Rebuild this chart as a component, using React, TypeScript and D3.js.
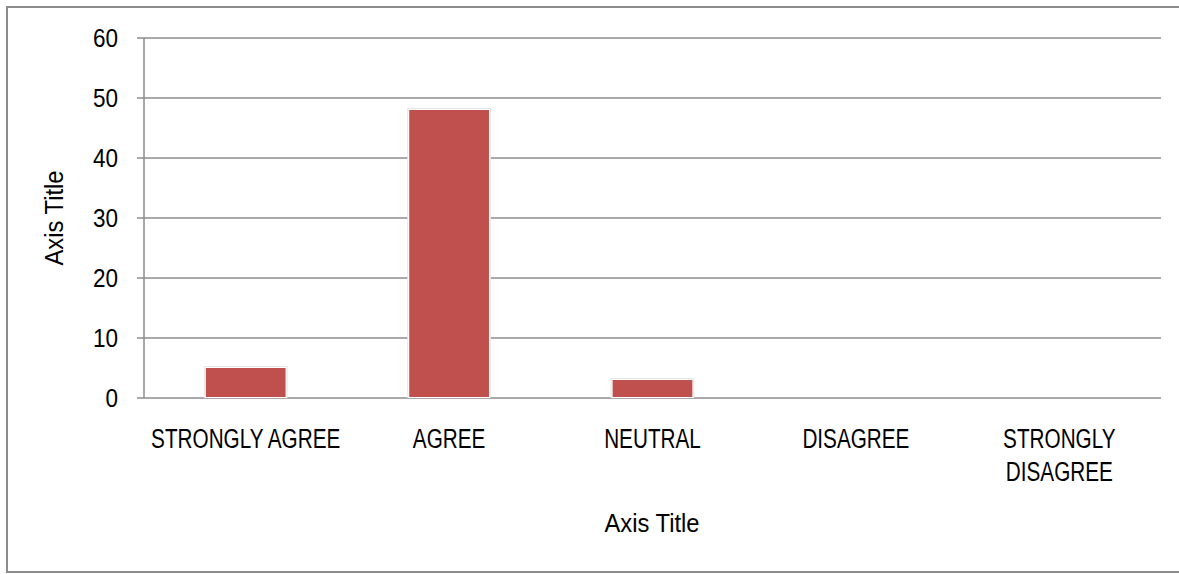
import React from "react";
import * as d3 from "d3";

const categories = ["STRONGLY AGREE", "AGREE", "NEUTRAL", "DISAGREE", "STRONGLY DISAGREE"];
const values = [5, 48, 3, 0, 0];
const yTicks = [0, 10, 20, 30, 40, 50, 60];
const xAxisTitle = "Axis Title";
const yAxisTitle = "Axis Title";

const W = 1179;
const H = 574;
const FONT = "'Liberation Sans', Arial, sans-serif";

function wrapLabel(s: string): string[] {
  if (s === "STRONGLY DISAGREE") return ["STRONGLY", "DISAGREE"];
  return [s];
}

function T(props: { x: number; y: number; size: number; sx: number; anchor: string; rotate?: number; children: React.ReactNode }) {
  const { x, y, size, sx, anchor, rotate, children } = props;
  return (
    <g transform={`translate(${x},${y}) rotate(${rotate || 0}) scale(${sx},1)`}>
      <text x={0} y={0} textAnchor={anchor as any} fontSize={size} fill="#000">{children}</text>
    </g>
  );
}

export default function App() {
  const left = 144, right = 1161, top = 38, bottom = 398;
  const band = d3.scaleBand<string>().domain(categories).range([left, right]);
  const y = d3.scaleLinear().domain([0, 60]).range([bottom, top]);
  const barW = band.bandwidth() / 2.55;

  return (
    <svg width={W} height={H} style={{ position: "absolute", left: 0, top: 0, fontFamily: FONT }}>
      <rect x={0} y={0} width={W} height={H} fill="#fff" />
      <rect x={7} y={7} width={W + 10} height={565} fill="none" stroke="#8c8c8c" strokeWidth={2} />
      {yTicks.map((t) => (
        <g key={t}>
          <line x1={137} x2={right} y1={y(t)} y2={y(t)} stroke="#8c8c8c" strokeWidth={1.5} />
          <T x={118} y={y(t) + 8.5} size={25} sx={0.9} anchor="end">{t}</T>
        </g>
      ))}
      <line x1={left} x2={left} y1={top} y2={bottom} stroke="#8c8c8c" strokeWidth={1.5} />
      {categories.map((c, i) => {
        const cx = (band(c) as number) + band.bandwidth() / 2;
        const v = values[i];
        const lines = wrapLabel(c);
        return (
          <g key={c}>
            {v > 0 && (
              <g>
                <rect x={cx - barW / 2 - 2} y={y(v) - 2} width={barW + 4} height={bottom - y(v) + 2} fill="#e6e6e6" />
                <rect x={cx - barW / 2 - 1} y={y(v) - 1} width={barW + 2} height={bottom - y(v) + 1} fill="#ffffff" />
                <rect x={cx - barW / 2} y={y(v)} width={barW} height={bottom - y(v) - 1} fill="#c0504d" />
              </g>
            )}
            {lines.map((l, j) => (
              <T key={j} x={cx} y={448 + j * 33} size={28} sx={0.74} anchor="middle">{l}</T>
            ))}
          </g>
        );
      })}
      <T x={652} y={532} size={25} sx={0.95} anchor="middle">{xAxisTitle}</T>
      <T x={63} y={218} size={25} sx={0.95} anchor="middle" rotate={-90}>{yAxisTitle}</T>
    </svg>
  );
}
